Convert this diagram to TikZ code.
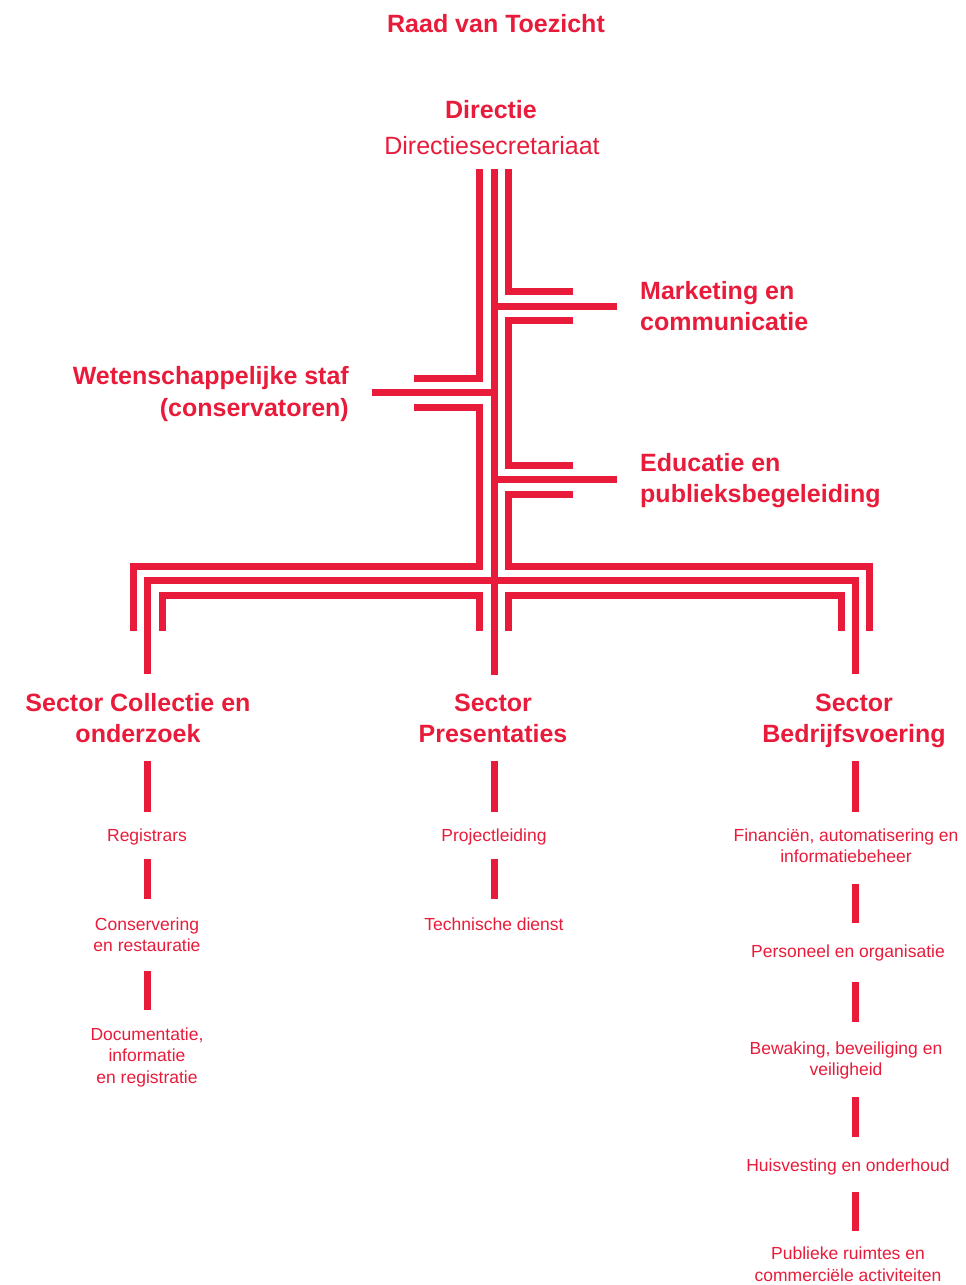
\documentclass[tikz,border=0pt]{standalone}
\usepackage{fontspec}
\setmainfont{Liberation Sans}
\definecolor{rood}{RGB}{232,27,58}
\begin{document}
\begin{tikzpicture}[x=1pt,y=-1pt,
  bar/.style={draw=rood,line width=7pt,line join=miter,line cap=butt},
  head/.style={text=rood,font=\bfseries\fontsize{25}{31}\selectfont,inner sep=0pt,align=center,anchor=base},
  sub/.style={text=rood,font=\fontsize{25}{31}\selectfont,inner sep=0pt,align=center,anchor=base},
  unit/.style={text=rood,font=\fontsize{17.5}{21.8}\selectfont,inner sep=0pt,align=center,anchor=base}]
\useasboundingbox (0,0) rectangle (966,1285);
% texts (multi-line nodes: base = baseline of last line)
\node[head] (rvt) at (496,32) {Raad van Toezicht};
\node[head] (dir) at (491,118) {Directie};
\node[sub] (sec) at (492,154) {Directiesecretariaat};
\node[head,align=left,anchor=base west] (mkt) at (640,330) {Marketing en\\communicatie};
\node[head,align=right,anchor=base east,font=\bfseries\fontsize{25}{32}\selectfont] (wet) at (349,416) {Wetenschappelijke staf\\(conservatoren)};
\node[head,align=left,anchor=base west] (edu) at (640,502.5) {Educatie en\\publieksbegeleiding};
\node[head] (sco) at (138,742) {Sector Collectie en\\onderzoek};
\node[head] (spr) at (493,742) {Sector\\Presentaties};
\node[head] (sbv) at (854,742) {Sector\\Bedrijfsvoering};
\node[unit] (reg) at (147,841) {Registrars};
\node[unit] (con) at (147,951.8) {Conservering\\en restauratie};
\node[unit] (doc) at (147,1083.6) {Documentatie,\\informatie\\en registratie};
\node[unit] (prj) at (494,841) {Projectleiding};
\node[unit] (tec) at (494,930) {Technische dienst};
\node[unit] (fin) at (846,862.8) {Financiën, automatisering en\\informatiebeheer};
\node[unit] (per) at (848,957.5) {Personeel en organisatie};
\node[unit] (bew) at (846,1075.8) {Bewaking, beveiliging en\\veiligheid};
\node[unit] (huis) at (848,1171) {Huisvesting en onderhoud};
\node[unit] (pub) at (848,1281) {Publieke ruimtes en\\commerciële activiteiten};
% main trunk
\draw[bar] (479.5,169) -- (479.5,378.5) -- (414,378.5);
\draw[bar] (494,169) -- (494,675);
\draw[bar] (494,306) -- (617,306);
\draw[bar] (494,392.5) -- (372,392.5);
\draw[bar] (494,479.5) -- (617,479.5);
\draw[bar] (508.5,169) -- (508.5,291.5) -- (573,291.5);
\draw[bar] (573,320.5) -- (508.5,320.5) -- (508.5,465) -- (573,465);
\draw[bar] (573,494.5) -- (508.5,494.5) -- (508.5,566) -- (869.5,566) -- (869.5,631);
\draw[bar] (414,407.5) -- (479.5,407.5) -- (479.5,566) -- (133,566) -- (133,631);
\draw[bar] (147.5,674) -- (147.5,580.5) -- (855.5,580.5) -- (855.5,674);
\draw[bar] (162,631) -- (162,595.5) -- (479.5,595.5) -- (479.5,631);
\draw[bar] (508.5,631) -- (508.5,595.5) -- (841,595.5) -- (841,631);
% sector columns
\draw[bar] (147.5,761) -- (147.5,812);
\draw[bar] (147.5,859) -- (147.5,899);
\draw[bar] (147.5,971) -- (147.5,1010);
\draw[bar] (494,761) -- (494,812);
\draw[bar] (494,859) -- (494,899);
\draw[bar] (855.5,761) -- (855.5,812);
\draw[bar] (855.5,884) -- (855.5,923);
\draw[bar] (855.5,982) -- (855.5,1022);
\draw[bar] (855.5,1097) -- (855.5,1137);
\draw[bar] (855.5,1192) -- (855.5,1231);
\end{tikzpicture}
\end{document}
